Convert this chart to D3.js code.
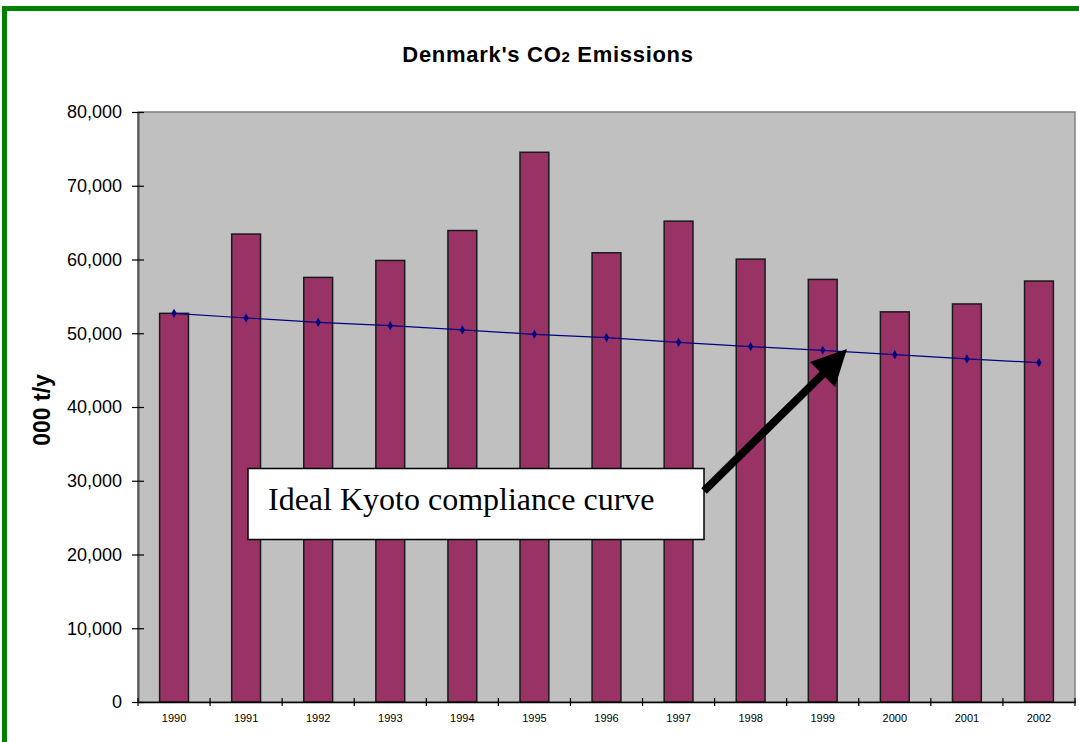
<!DOCTYPE html>
<html>
<head>
<meta charset="utf-8">
<script src="https://cdn.jsdelivr.net/npm/d3@7"></script>
<style>
  body { margin: 0; background: #fff; }
  svg { display: block; }
</style>
</head>
<body>
<div id="chart"></div>
<script>
var years = ["1990", "1991", "1992", "1993", "1994", "1995", "1996",
             "1997", "1998", "1999", "2000", "2001", "2002"];
var emissions = [52700, 63450, 57570, 59870, 63930, 74540, 60910,
                 65200, 60050, 57300, 52900, 53970, 57080];
var kyotoCurve = [52700, 52070, 51480, 51030, 50450, 49860, 49410,
                  48770, 48190, 47690, 47100, 46520, 46020];
var yTicks = [0, 10000, 20000, 30000, 40000, 50000, 60000, 70000, 80000];

var svgWidth = 1079;
var svgHeight = 742;

var margin = { top: 112, right: 4, bottom: 40, left: 138 };
var chartWidth = 1075 - margin.left;
var chartHeight = 702 - margin.top;

var svg = d3.select("#chart")
  .append("svg")
  .attr("width", svgWidth)
  .attr("height", svgHeight);

// green frame round the whole chart (runs off the right and bottom edge)
svg.append("rect")
  .attr("x", 4.5)
  .attr("y", 8.5)
  .attr("width", 1120)
  .attr("height", 800)
  .attr("fill", "none")
  .attr("stroke", "#008000")
  .attr("stroke-width", 5);

// title, with a small "2"
var title = svg.append("text")
  .attr("x", 548)
  .attr("y", 62)
  .attr("text-anchor", "middle")
  .style("font-family", "Arial, 'Liberation Sans', sans-serif")
  .style("font-weight", "bold")
  .style("font-size", "22px")
  .style("letter-spacing", "0.7px");
title.append("tspan").text("Denmark's CO");
title.append("tspan").style("font-size", "15px").text("2");
title.append("tspan").text(" Emissions");

var chartGroup = svg.append("g")
  .attr("transform", `translate(${margin.left}, ${margin.top})`);

var x = d3.scaleBand()
  .domain(years)
  .range([0, chartWidth])
  .paddingInner(0.6)
  .paddingOuter(0.3);

var y = d3.scaleLinear()
  .domain([0, 80000])
  .range([chartHeight, 0]);

// plot area
chartGroup.append("rect")
  .attr("width", chartWidth)
  .attr("height", chartHeight)
  .attr("fill", "#c0c0c0")
  .attr("stroke", "#808080")
  .attr("stroke-width", 1.5);

// bars
chartGroup.selectAll(".bar")
  .data(emissions)
  .enter()
  .append("rect")
  .attr("class", "bar")
  .attr("x", (d, i) => x(years[i]))
  .attr("y", d => y(d))
  .attr("width", x.bandwidth())
  .attr("height", d => chartHeight - y(d))
  .attr("fill", "#993366")
  .attr("stroke", "#1a1a1a")
  .attr("stroke-width", 1.5);

// kyoto line
var line = d3.line()
  .x((d, i) => x(years[i]) + x.bandwidth() / 2)
  .y(d => y(d));

chartGroup.append("path")
  .datum(kyotoCurve)
  .attr("d", line)
  .attr("fill", "none")
  .attr("stroke", "#000080")
  .attr("stroke-width", 1.2);

chartGroup.selectAll(".marker")
  .data(kyotoCurve)
  .enter()
  .append("path")
  .attr("class", "marker")
  .attr("d", d3.symbol().type(d3.symbolDiamond).size(24))
  .attr("transform", (d, i) => `translate(${x(years[i]) + x.bandwidth() / 2}, ${y(d)})`)
  .attr("fill", "#000080");

// y axis
var leftAxis = d3.axisLeft(y)
  .tickValues(yTicks)
  .tickFormat(d3.format(","))
  .tickSize(0)
  .tickPadding(16);

var yAxisG = chartGroup.append("g").call(leftAxis);
yAxisG.select(".domain").attr("stroke", "#555").attr("stroke-width", 2);
yAxisG.selectAll(".tick text")
  .style("font-family", "Arial, 'Liberation Sans', sans-serif")
  .style("font-size", "18px")
  .attr("fill", "#000");
yAxisG.selectAll(".tick").append("line")
  .attr("x1", -6)
  .attr("x2", 6)
  .attr("stroke", "#000")
  .attr("stroke-width", 1.2);

// x axis
var bottomAxis = d3.axisBottom(x).tickSize(0).tickPadding(12);
var xAxisG = chartGroup.append("g")
  .attr("transform", `translate(0, ${chartHeight})`)
  .call(bottomAxis);
xAxisG.select(".domain").attr("stroke", "#000").attr("stroke-width", 1.5);
xAxisG.selectAll(".tick text")
  .style("font-family", "Arial, 'Liberation Sans', sans-serif")
  .style("font-size", "11px")
  .attr("fill", "#000");

// x tick marks sit between the categories
var boundaries = years.map((d, i) => i).concat([years.length]);
xAxisG.selectAll(".sep")
  .data(boundaries)
  .enter()
  .append("line")
  .attr("class", "sep")
  .attr("x1", d => d * x.step())
  .attr("x2", d => d * x.step())
  .attr("y1", -4)
  .attr("y2", 4)
  .attr("stroke", "#000")
  .attr("stroke-width", 1.2);

// y axis title
svg.append("text")
  .attr("transform", "translate(50, 410) rotate(-90)")
  .attr("text-anchor", "middle")
  .style("font-family", "Arial, 'Liberation Sans', sans-serif")
  .style("font-weight", "bold")
  .style("font-size", "23px")
  .text("000 t/y");

// annotation box
svg.append("rect")
  .attr("x", 248)
  .attr("y", 468.5)
  .attr("width", 456)
  .attr("height", 71)
  .attr("fill", "#fff")
  .attr("stroke", "#000")
  .attr("stroke-width", 1.5);

svg.append("text")
  .attr("x", 268)
  .attr("y", 510)
  .style("font-family", "'Times New Roman', 'Liberation Serif', serif")
  .style("font-size", "32px")
  .attr("fill", "#000")
  .text("Ideal Kyoto compliance curve");

// arrow
svg.append("line")
  .attr("x1", 704)
  .attr("y1", 491)
  .attr("x2", 826)
  .attr("y2", 371)
  .attr("stroke", "#000")
  .attr("stroke-width", 8);

svg.append("path")
  .attr("d", "M847,349 L810,362 L835,387 Z")
  .attr("fill", "#000");
</script>
</body>
</html>
